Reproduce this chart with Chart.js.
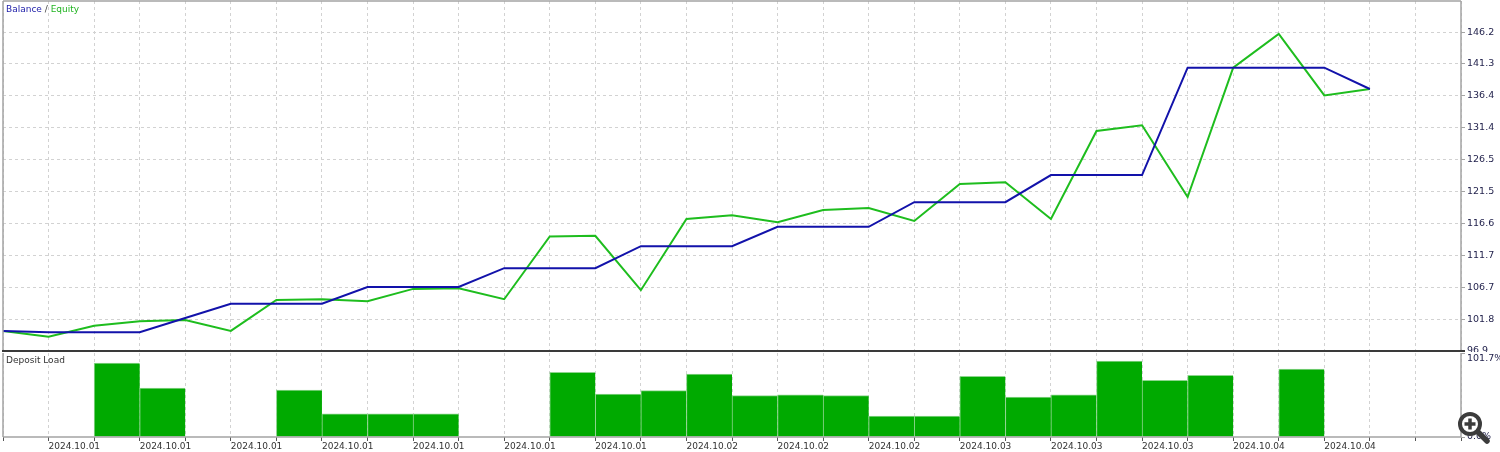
<!DOCTYPE html>
<html>
<head>
<meta charset="utf-8">
<script src="https://cdn.jsdelivr.net/npm/chart.js@4"></script>
<style>
  body { margin: 0; background: #fff; }
  #wrap { position: relative; width: 1500px; height: 452px; overflow: hidden; background: #fff;
          font-family: "DejaVu Sans", sans-serif; font-size: 9px; }
  #top { position: absolute; left: 0; top: 0; }
  #bottom { position: absolute; left: 0; top: 352px; }
  .lbl { position: absolute; white-space: nowrap; line-height: 11px; }
  #zoom { position: absolute; left: 1454px; top: 406px; }
</style>
</head>
<body>
<div id="wrap">
  <canvas id="top" width="1500" height="352"></canvas>
  <canvas id="bottom" width="1500" height="100"></canvas>
  <div class="lbl" style="left:6px;top:4px"><span style="color:#1c1ca8">Balance</span><span style="color:#444"> / </span><span style="color:#22b422">Equity</span></div>
  <div class="lbl" style="left:6px;top:355px;color:#333">Deposit Load</div>
  <svg id="zoom" width="40" height="40" viewBox="0 0 40 40">
    <line x1="22" y1="24" x2="33" y2="35" stroke="#3c3c3c" stroke-width="5.5" stroke-linecap="round"/>
    <circle cx="16" cy="18" r="10" fill="#fff" stroke="#3c3c3c" stroke-width="4"/>
    <line x1="10.5" y1="18" x2="21.5" y2="18" stroke="#3c3c3c" stroke-width="3.5"/>
    <line x1="16" y1="12.5" x2="16" y2="23.5" stroke="#3c3c3c" stroke-width="3.5"/>
  </svg>
</div>
<script>
// --- Data ---
const slotCount = 32;
const xLabels = [
  "2024.10.01", "2024.10.01", "2024.10.01", "2024.10.01", "2024.10.01",
  "2024.10.01", "2024.10.01", "2024.10.02", "2024.10.02", "2024.10.02",
  "2024.10.03", "2024.10.03", "2024.10.03", "2024.10.04", "2024.10.04"
];
const balance = [
  100.0, 99.8, 99.8, 99.8, 102.0, 104.2, 104.2, 104.2, 106.8, 106.8, 106.8,
  109.7, 109.7, 109.7, 113.1, 113.1, 113.1, 116.1, 116.1, 116.1, 119.9, 119.9,
  119.9, 124.1, 124.1, 124.1, 140.7, 140.7, 140.7, 140.7, 137.4
];
const equity = [
  100.0, 99.1, 100.8, 101.5, 101.7, 100.0, 104.8, 104.9, 104.6, 106.5, 106.6,
  104.9, 114.6, 114.7, 106.3, 117.3, 117.9, 116.8, 118.7, 119.0, 117.0, 122.7,
  123.0, 117.3, 130.9, 131.8, 120.7, 140.7, 145.9, 136.4, 137.4
];
const depositLoad = [
  null, null, 89.6, 59.3, null, null, 56.9, 28.2, 28.2, 28.2, null, null,
  78.3, 52.1, 56.1, 76.3, 50.0, 51.2, 50.0, 25.4, 25.4, 73.5, 48.4, 51.2,
  92.0, 68.6, 74.7, null, 82.3, null, null, null
];
const priceTicks = [96.9, 101.8, 106.7, 111.7, 116.6, 121.5, 126.5, 131.4, 136.4, 141.3, 146.2];
const priceMax = 151.0;
const loadTicks = [0, 101.7];
const loadTickLabels = ["0.0%", "101.7%"];

Chart.defaults.font.family = "DejaVu Sans";
Chart.defaults.font.size = 9;

const slotTicks = s => { s.ticks = Array.from({ length: slotCount + 1 }, (_, i) => ({ value: i })); };
const noPad = s => { s.paddingTop = 0; s.paddingBottom = 0; s.paddingLeft = 0; s.paddingRight = 0; };

// --- Frame around the plot areas ---
const framePlugin = {
  id: "frame",
  afterDraw(chart, args, opts) {
    const { ctx, chartArea: a } = chart;
    ctx.save();
    ctx.strokeStyle = "#a4a4a4";
    ctx.lineWidth = 1.5;
    ctx.beginPath();
    if (opts.top) { ctx.moveTo(a.left, a.top); ctx.lineTo(a.right, a.top); }
    ctx.moveTo(a.left, a.top); ctx.lineTo(a.left, a.bottom);
    ctx.moveTo(a.right, a.top); ctx.lineTo(a.right, a.bottom);
    if (!opts.darkBottom) { ctx.moveTo(a.left, a.bottom); ctx.lineTo(a.right, a.bottom); }
    ctx.stroke();
    if (opts.darkBottom) {
      ctx.strokeStyle = "#3a3a3a";
      ctx.lineWidth = 2;
      ctx.beginPath();
      ctx.moveTo(a.left - 1, a.bottom);
      ctx.lineTo(a.right + 4, a.bottom);
      ctx.stroke();
    }
    ctx.restore();
  }
};

// --- Balance / Equity ---
new Chart(document.getElementById("top"), {
  type: "line",
  data: {
    datasets: [
      { label: "Balance", data: balance.map((v, i) => ({ x: i, y: v })), borderColor: "#1212aa",
        borderWidth: 2, pointRadius: 0, tension: 0 },
      { label: "Equity", data: equity.map((v, i) => ({ x: i, y: v })), borderColor: "#1ebd1e",
        borderWidth: 2, pointRadius: 0, tension: 0 }
    ]
  },
  plugins: [framePlugin],
  options: {
    responsive: false,
    animation: false,
    layout: { padding: { left: 3, top: 1, bottom: 1, right: 0 } },
    plugins: { legend: { display: false }, tooltip: { enabled: false }, frame: { top: true, darkBottom: true } },
    scales: {
      x: {
        type: "linear", min: 0, max: slotCount, offset: false,
        afterBuildTicks: slotTicks,
        afterFit: s => { s.height = 0; noPad(s); },
        ticks: { display: false },
        grid: { color: "#d2d2d2", drawTicks: false },
        border: { display: false, dash: [3, 3] }
      },
      y: {
        position: "right", min: priceTicks[0], max: priceMax,
        afterBuildTicks: s => { s.ticks = priceTicks.map(v => ({ value: v })); },
        afterFit: s => { s.width = 39; noPad(s); },
        ticks: { color: "#24244e", padding: 2, font: { size: 9.5 }, callback: v => v.toFixed(1) },
        grid: { color: "#d2d2d2", tickColor: "#a4a4a4", tickLength: 4, tickBorderDash: [] },
        border: { display: false, dash: [3, 3] }
      }
    }
  }
});

// --- Deposit Load ---
new Chart(document.getElementById("bottom"), {
  type: "bar",
  data: {
    datasets: [{
      label: "Deposit Load",
      data: depositLoad.map((v, i) => ({ x: i + 0.5, y: v })),
      backgroundColor: "#00aa00",
      borderColor: "#8ed58e",
      borderWidth: { left: 1, top: 1, right: 0, bottom: 0 },
      barPercentage: 1,
      categoryPercentage: 1
    }]
  },
  plugins: [framePlugin],
  options: {
    responsive: false,
    animation: false,
    layout: { padding: { left: 3, top: 1, bottom: 0, right: 0 } },
    plugins: { legend: { display: false }, tooltip: { enabled: false }, frame: { top: false, darkBottom: false } },
    scales: {
      x: {
        type: "linear", min: 0, max: slotCount, offset: false,
        afterBuildTicks: slotTicks,
        afterFit: s => { s.height = 15; noPad(s); },
        ticks: {
          autoSkip: false, maxRotation: 0, align: "start", padding: 0, color: "#333",
          callback: v => (v % 2 === 1 ? (xLabels[(v - 1) / 2] || "") : "")
        },
        grid: { offset: false, color: "#d2d2d2", tickColor: "#555", tickLength: 4, tickBorderDash: [] },
        border: { display: false, dash: [3, 3] }
      },
      y: {
        position: "right", min: loadTicks[0], max: loadTicks[loadTicks.length - 1],
        afterBuildTicks: s => { s.ticks = loadTicks.map(v => ({ value: v })); },
        afterFit: s => { s.width = 39; noPad(s); },
        ticks: {
          color: "#24244e", padding: 2, font: { size: 9.5 },
          callback: (v, i) => (i === loadTicks.length - 1 ? ["", loadTickLabels[i]] : loadTickLabels[i])
        },
        grid: { drawOnChartArea: false, tickColor: "#a4a4a4", tickLength: 4 },
        border: { display: false }
      }
    }
  }
});
</script>
</body>
</html>
